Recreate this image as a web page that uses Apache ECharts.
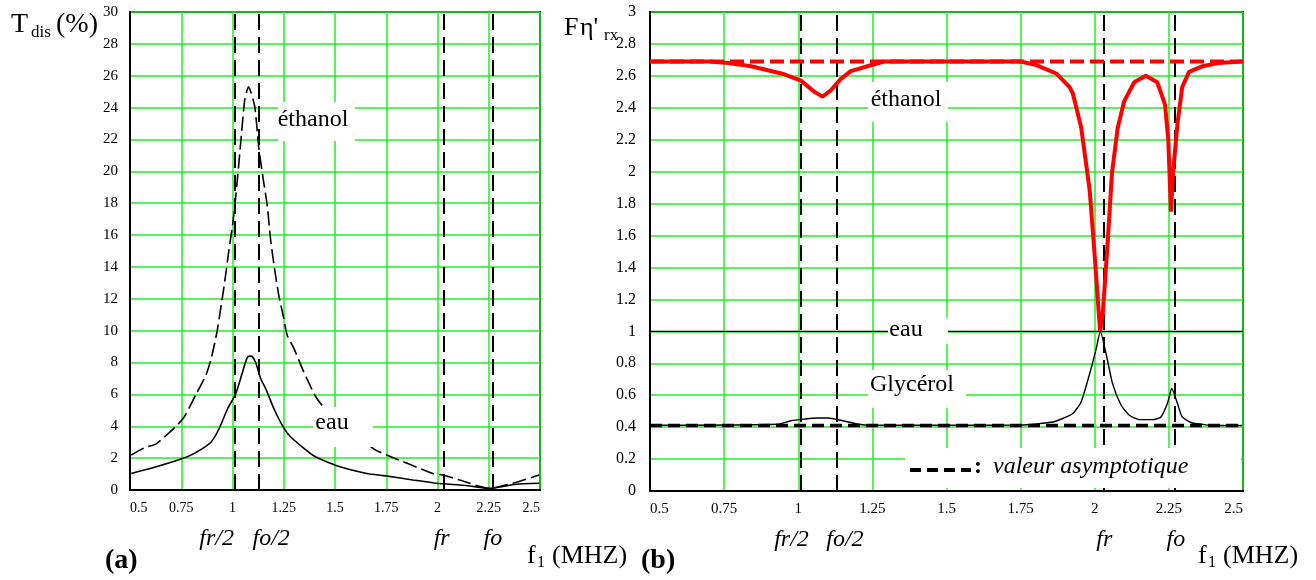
<!DOCTYPE html>
<html><head><meta charset="utf-8">
<script src="https://cdn.jsdelivr.net/npm/echarts@6/dist/echarts.min.js"></script>
<style>html,body{margin:0;padding:0;background:#fff}#c{width:1316px;height:580px}</style>
</head><body><div id="c"></div>
<script>
// ---------- DATA ----------
// (a) T_dis (%) vs f1 (MHz)
const leftEau = [[0.506,1.04],[0.603,1.36],[0.749,1.94],[0.814,2.3],[0.895,3.0],[0.935,3.86],[0.976,5.1],[1.016,6.04],[1.049,7.4],[1.073,8.34],[1.092,8.4],[1.113,8.0],[1.137,7.0],[1.162,6.36],[1.202,5.1],[1.243,4.06],[1.283,3.34],[1.396,2.15],[1.501,1.56],[1.655,1.04],[1.739,0.9],[1.88,0.63],[1.995,0.42],[2.141,0.28],[2.254,0.1],[2.383,0.36],[2.496,0.42]];
const leftEthanol = [[0.506,2.2],[0.571,2.65],[0.628,2.9],[0.725,4.0],[0.765,4.6],[0.822,6.0],[0.870,7.2],[0.895,8.2],[0.924,9.9],[0.959,12.8],[0.983,15.1],[1.0,16.6],[1.011,17.8],[1.024,19.5],[1.040,21.8],[1.060,24.5],[1.078,25.3],[1.108,24.1],[1.129,21.4],[1.150,19.5],[1.170,17.8],[1.186,15.7],[1.205,13.9],[1.226,12.2],[1.248,10.9],[1.267,9.7],[1.299,8.9],[1.348,7.4],[1.404,5.9],[1.445,5.2],[1.687,2.6],[1.752,2.2],[1.977,1.04],[2.026,0.94],[2.108,0.63],[2.254,0.1],[2.366,0.42],[2.496,0.94]];
// (b) F eta'_rx vs f1 (MHz)
const rightEthanol = [[0.506,2.69],[0.70,2.69],[0.764,2.68],[0.841,2.66],[0.953,2.61],[1.009,2.57],[1.054,2.50],[1.082,2.47],[1.110,2.51],[1.143,2.58],[1.177,2.63],[1.233,2.66],[1.289,2.69],[1.5,2.69],[1.75,2.69],[1.803,2.667],[1.870,2.615],[1.915,2.53],[1.926,2.49],[1.954,2.28],[1.983,1.88],[2.0,1.47],[2.018,1.0],[2.027,1.11],[2.044,1.57],[2.058,1.99],[2.077,2.27],[2.099,2.44],[2.133,2.56],[2.172,2.60],[2.211,2.56],[2.237,2.42],[2.248,2.20],[2.254,1.9],[2.257,1.75],[2.264,1.99],[2.279,2.30],[2.295,2.53],[2.318,2.625],[2.362,2.66],[2.418,2.68],[2.496,2.69]];
const rightGlycerol = [[0.506,0.412],[0.931,0.418],[0.975,0.44],[1.02,0.45],[1.065,0.457],[1.099,0.457],[1.143,0.443],[1.199,0.42],[1.244,0.412],[1.5,0.412],[1.75,0.413],[1.803,0.42],[1.859,0.432],[1.892,0.454],[1.926,0.485],[1.954,0.558],[1.983,0.736],[2.005,0.892],[2.019,1.0],[2.038,0.861],[2.060,0.673],[2.089,0.537],[2.117,0.474],[2.150,0.447],[2.195,0.447],[2.223,0.464],[2.245,0.548],[2.260,0.642],[2.279,0.548],[2.295,0.464],[2.329,0.426],[2.362,0.418],[2.396,0.41],[2.496,0.41]];
const rightEauLevel = 1.0;
const ethanolAsymptote = 2.69;
const glycerolAsymptote = 0.41;
const xRange = [0.5, 2.5];
const leftYRange = [0, 30];
const rightYRange = [0, 3];
const markerNames = ['fr/2', 'fo/2', 'fr', 'fo'];
const leftMarkers = [1.015, 1.13, 2.03, 2.265];
const rightMarkers = [1.011, 1.127, 2.029, 2.267];

// ---------- CHART ----------
const FONT = 'Liberation Serif';
const GREEN = '#22ee22';
const chart = echarts.init(document.getElementById('c'), null, {renderer: 'canvas'});

function xAxisCfg(gi, fs) {
  return {
    type: 'value', gridIndex: gi, min: xRange[0], max: xRange[1], interval: 0.25,
    axisLine: {show: true, onZero: false, lineStyle: {color: '#000', width: 2}},
    axisTick: {show: false},
    splitLine: {show: true, lineStyle: {color: GREEN, width: 1.5}},
    axisLabel: {color: '#000', fontFamily: FONT, fontSize: fs, margin: 11,
      alignMinLabel: 'left', alignMaxLabel: 'right',
      formatter: v => String(+v.toFixed(2))}
  };
}
function yAxisCfg(gi, range, step, fs, margin) {
  return {
    type: 'value', gridIndex: gi, min: range[0], max: range[1], interval: step,
    axisLine: {show: true, lineStyle: {color: '#000', width: 2}},
    axisTick: {show: false},
    splitLine: {show: true, lineStyle: {color: GREEN, width: 1.5}},
    axisLabel: {color: '#000', fontFamily: FONT, fontSize: fs, margin: margin,
      formatter: v => String(+v.toFixed(1))}
  };
}
function markerSeries(xi, yi, vals) {
  return {
    type: 'line', xAxisIndex: xi, yAxisIndex: yi, data: [], silent: true, z: 4,
    markLine: {
      silent: true, symbol: 'none', animation: false,
      label: {show: false},
      lineStyle: {color: '#000', type: [16, 7], width: 2},
      data: vals.map(v => ({xAxis: v}))
    }
  };
}

const option = {
  animation: false,
  backgroundColor: '#fff',
  grid: [
    {left: 130, right: 776, top: 12, bottom: 90, show: true, borderColor: '#000', borderWidth: 2, backgroundColor: 'transparent'},
    {left: 650, right: 73, top: 12, bottom: 89, show: true, borderColor: '#000', borderWidth: 2, backgroundColor: 'transparent'}
  ],
  xAxis: [xAxisCfg(0, 14), xAxisCfg(1, 15)],
  yAxis: [yAxisCfg(0, leftYRange, 2, 15, 12), yAxisCfg(1, rightYRange, 0.2, 16, 14)],
  series: [
    markerSeries(0, 0, leftMarkers),
    markerSeries(1, 1, rightMarkers),
    {name: 'eau', type: 'line', xAxisIndex: 0, yAxisIndex: 0, data: leftEau, showSymbol: false, smooth: 0.2,
      lineStyle: {color: '#000', width: 1.6}, z: 5},
    {name: 'éthanol', type: 'line', xAxisIndex: 0, yAxisIndex: 0, data: leftEthanol, showSymbol: false, smooth: 0.2,
      lineStyle: {color: '#000', width: 1.6, type: [14, 5]}, z: 5},
    {name: 'eau b', type: 'line', xAxisIndex: 1, yAxisIndex: 1, data: [[xRange[0], rightEauLevel], [xRange[1], rightEauLevel]], showSymbol: false,
      lineStyle: {color: '#000', width: 1.2}, z: 5},
    {name: 'asym éthanol', type: 'line', xAxisIndex: 1, yAxisIndex: 1, data: [[xRange[0], ethanolAsymptote], [xRange[1], ethanolAsymptote]], showSymbol: false,
      lineStyle: {color: '#ff0000', width: 4, type: [14, 6]}, z: 5},
    {name: 'éthanol b', type: 'line', xAxisIndex: 1, yAxisIndex: 1, data: rightEthanol, showSymbol: false,
      lineStyle: {color: '#ff0000', width: 4}, z: 6},
    {name: 'Glycérol', type: 'line', xAxisIndex: 1, yAxisIndex: 1, data: rightGlycerol, showSymbol: false, smooth: 0.2,
      lineStyle: {color: '#000', width: 1.4}, z: 5},
    {name: 'asym glycérol', type: 'line', xAxisIndex: 1, yAxisIndex: 1, data: [[xRange[0], glycerolAsymptote], [xRange[1], glycerolAsymptote]], showSymbol: false,
      lineStyle: {color: '#000', width: 3.5, type: [12, 6]}, z: 6}
  ]
};
chart.setOption(option);

// ---------- ANNOTATIONS ----------
function txt(text, x, y, size, opts) {
  opts = opts || {};
  return {type: 'text', z: 60, silent: true,
    style: {text: text, x: x, y: y, fill: '#000', fontFamily: FONT, fontSize: size,
      fontStyle: opts.italic ? 'italic' : 'normal', fontWeight: opts.bold ? 'bold' : 'normal',
      align: opts.align || 'left', verticalAlign: 'middle'}};
}
function box(x, y, w, h) {
  return {type: 'rect', z: 55, silent: true, shape: {x: x, y: y, width: w, height: h}, style: {fill: '#fff'}};
}
const g = [];
// axis titles
g.push(txt('T', 11, 25, 28));
g.push(txt('dis', 31, 33, 17));
g.push(txt('(%)', 56, 25, 28));
g.push(txt('F', 564, 28, 26));
g.push(txt('η\'', 580, 28, 26));
g.push(txt('rx', 604, 36, 17));
// panel letters
g.push(txt('(a)', 105, 561, 28, {bold: true}));
g.push(txt('(b)', 641, 561, 28, {bold: true}));
// f1 (MHZ)
[[527, 0], [1198, 1]].forEach(([x]) => {
  g.push(txt('f', x, 556, 26));
  g.push(txt('1', x + 10, 563, 16));
  g.push(txt('(MHZ)', x + 25, 556, 26));
});
// marker names under axes
const leftOff = [-19, 12, -2, 1];
const rightOff = [-10, 9, 1, 2];
markerNames.forEach((n, i) => {
  const xl = chart.convertToPixel({xAxisIndex: 0}, leftMarkers[i]);
  const xr = chart.convertToPixel({xAxisIndex: 1}, rightMarkers[i]);
  g.push(txt(n, xl + leftOff[i], 539, 24, {italic: true, align: 'center'}));
  g.push(txt(n, xr + rightOff[i], 540, 24, {italic: true, align: 'center'}));
});
// in-plot labels with white boxes
g.push(box(278, 102, 77, 39)); g.push(txt('éthanol', 313, 120, 24, {align: 'center'}));
g.push(box(313, 407, 60, 40)); g.push(txt('eau', 332, 423, 24, {align: 'center'}));
g.push(box(868, 82, 80, 40)); g.push(txt('éthanol', 906, 100, 24, {align: 'center'}));
g.push(box(888, 318, 60, 26)); g.push(txt('eau', 906, 330, 24, {align: 'center'}));
g.push(box(868, 370, 98, 38)); g.push(txt('Glycérol', 912, 385, 24, {align: 'center'}));
g.push(box(905, 448, 336, 40));
g.push({type: 'line', z: 60, silent: true, shape: {x1: 910, y1: 470, x2: 971, y2: 470},
  style: {stroke: '#000', lineWidth: 4, lineDash: [11, 6]}});
g.push(txt(':', 974, 467, 24, {bold: true}));
g.push(txt('valeur asymptotique', 993, 467, 24, {italic: true}));

chart.setOption({graphic: g});
</script>
</body></html>
